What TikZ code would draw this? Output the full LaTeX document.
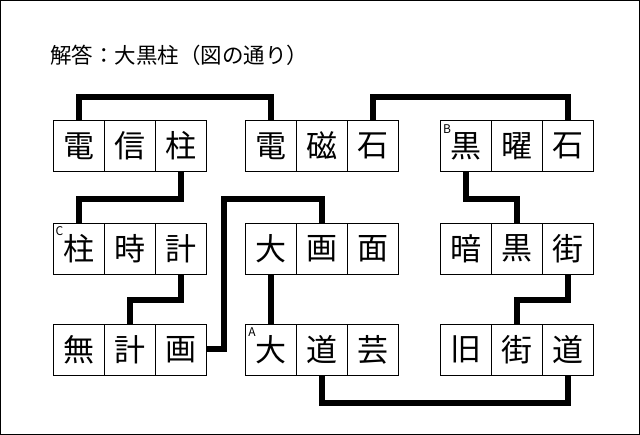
\documentclass[tikz,border=0pt]{standalone}
\usepackage{fontspec}
\setmainfont{Noto Sans CJK JP}
\begin{document}
\begin{tikzpicture}[x=1pt,y=-1pt,
  cell/.style={draw,line width=0.9pt,minimum width=51pt,minimum height=51pt,inner sep=0pt,font=\fontsize{31}{31}\selectfont},
  conn/.style={line width=6pt},
  tag/.style={inner sep=0pt,font=\fontsize{12}{12}\selectfont}]
\draw[line width=0.8pt] (0.5,0.5) rectangle (639.5,434.5);
\useasboundingbox (0,0) rectangle (640,435);
\node[anchor=west,font=\fontsize{21.5}{21.5}\selectfont,inner sep=0pt] (title) at (50,55) {解答：大黒柱（図の通り）};
% row 1
\node[cell] (a1) at (78.5,146) {電};
\node[cell] (a2) at (129.5,146) {信};
\node[cell] (a3) at (180.5,146) {柱};
\node[cell] (b1) at (271,146) {電};
\node[cell] (b2) at (322,146) {磁};
\node[cell] (b3) at (373,146) {石};
\node[cell] (c1) at (466,146) {黒};
\node[cell] (c2) at (517,146) {曜};
\node[cell] (c3) at (568,146) {石};
% row 2
\node[cell] (d1) at (78.5,248.5) {柱};
\node[cell] (d2) at (129.5,248.5) {時};
\node[cell] (d3) at (180.5,248.5) {計};
\node[cell] (e1) at (271,248.5) {大};
\node[cell] (e2) at (322,248.5) {画};
\node[cell] (e3) at (373,248.5) {面};
\node[cell] (f1) at (466,248.5) {暗};
\node[cell] (f2) at (517,248.5) {黒};
\node[cell] (f3) at (568,248.5) {街};
% row 3
\node[cell] (g1) at (78.5,349.5) {無};
\node[cell] (g2) at (129.5,349.5) {計};
\node[cell] (g3) at (180.5,349.5) {画};
\node[cell] (h1) at (271,349.5) {大};
\node[cell] (h2) at (322,349.5) {道};
\node[cell] (h3) at (373,349.5) {芸};
\node[cell] (i1) at (466,349.5) {旧};
\node[cell] (i2) at (517,349.5) {街};
\node[cell] (i3) at (568,349.5) {道};
% tags
\node[tag] (tb) at ([xshift=7pt,yshift=-9pt]c1.north west) {B};
\node[tag] (tc) at ([xshift=7pt,yshift=-9pt]d1.north west) {C};
\node[tag] (ta) at ([xshift=7pt,yshift=-9pt]h1.north west) {A};
% levels
\coordinate (y1) at (0,97);
\coordinate (y2) at (0,199);
\coordinate (y3) at (0,300);
\coordinate (y4) at (0,403);
\coordinate (xr) at (224,0);
% connectors
\draw[conn] (a1.north) -- (a1.north |- y1) -| (b1.north);
\draw[conn] (b3.north) -- (b3.north |- y1) -| (c3.north);
\draw[conn] (a3.south) -- (a3.south |- y2) -| (d1.north);
\draw[conn] (d3.south) -- (d3.south |- y3) -| (g2.north);
\draw[conn] (g3.east) -- (xr |- g3.east) -- (xr |- y2) -| (e2.north);
\draw[conn] (e1.south) -- (h1.north);
\draw[conn] (h2.south) -- (h2.south |- y4) -| (i3.south);
\draw[conn] (c1.south) -- (c1.south |- y2) -| (f2.north);
\draw[conn] (f3.south) -- (f3.south |- y3) -| (i2.north);
\end{tikzpicture}
\end{document}
